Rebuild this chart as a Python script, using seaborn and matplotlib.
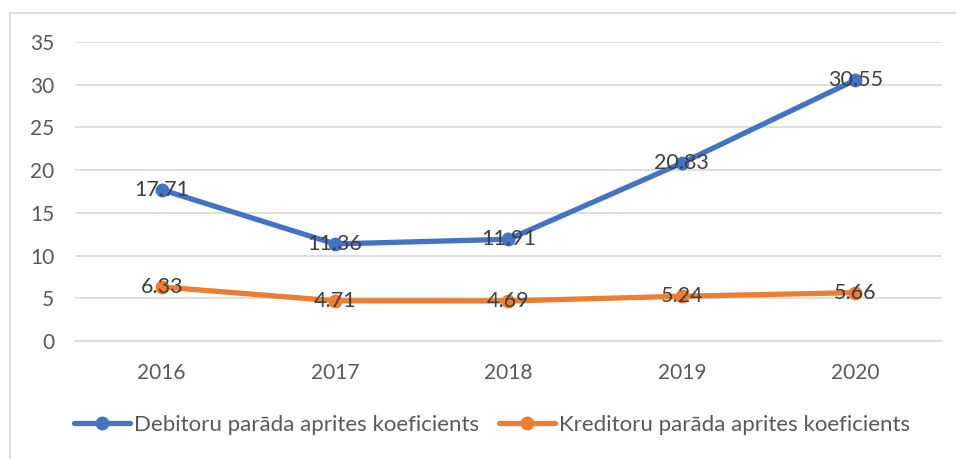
import pandas as pd
import seaborn as sns
import matplotlib.pyplot as plt
from matplotlib.patches import Rectangle

# data
years = ["2016", "2017", "2018", "2019", "2020"]
debitoru = [17.71, 11.36, 11.91, 20.83, 30.55]
kreditoru = [6.33, 4.71, 4.69, 5.24, 5.66]
series_names = ["Debitoru parāda aprites koeficients", "Kreditoru parāda aprites koeficients"]

df = pd.DataFrame({
    "Gads": years * 2,
    "Vērtība": debitoru + kreditoru,
    "Rādītājs": [series_names[0]] * len(years) + [series_names[1]] * len(years),
})

sns.set_style("white")
plt.rcParams["font.family"] = ["Lato", "DejaVu Sans"]

text_col = "#595959"
palette = {series_names[0]: "#4472C4", series_names[1]: "#ED7D31"}

fig = plt.figure(figsize=(9.56, 4.59), dpi=100)
ax = fig.add_axes([75 / 956, 1 - 341 / 459, 867 / 956, 299 / 459])

sns.lineplot(data=df, x="Gads", y="Vērtība", hue="Rādītājs", palette=palette,
             marker="o", markersize=10, markeredgewidth=0, linewidth=3.8,
             sort=False, ax=ax, legend=True, zorder=3)

# data labels centred on the points
for vals in (debitoru, kreditoru):
    for i, v in enumerate(vals):
        ax.text(i, v, f"{v:.2f}", ha="center", va="center", fontsize=15.5,
                color="#404040", zorder=5)

ax.set_ylim(0, 35)
ax.set_xlim(-0.5, len(years) - 0.5)
ax.set_yticks(range(0, 36, 5))
ax.grid(axis="y", color="#D9D9D9", linewidth=1.2)
ax.set_axisbelow(True)
for s in ["top", "right", "left"]:
    ax.spines[s].set_visible(False)
ax.spines["bottom"].set_color("#D9D9D9")
ax.spines["bottom"].set_linewidth(1.2)
ax.tick_params(axis="y", length=0, pad=15, labelsize=15, labelcolor=text_col)
ax.tick_params(axis="x", length=0, pad=16, labelsize=15, labelcolor=text_col)
ax.set_xlabel("")
ax.set_ylabel("")

handles, labels = ax.get_legend_handles_labels()
ax.legend_.remove()
fig.legend(handles, labels, loc="center", bbox_to_anchor=(0.515, 0.074), ncol=2,
           frameon=False, fontsize=16, labelcolor=text_col, handlelength=2.5,
           handletextpad=0.2, columnspacing=0.9)

# light chart border (top and left visible)
fig.patches.append(Rectangle((10 / 956, -0.05), 1.2, 1 - 13 / 459 + 0.05,
                             transform=fig.transFigure, fill=False,
                             edgecolor="#D9D9D9", linewidth=1.2))

fig.savefig("out.png", dpi=100)
